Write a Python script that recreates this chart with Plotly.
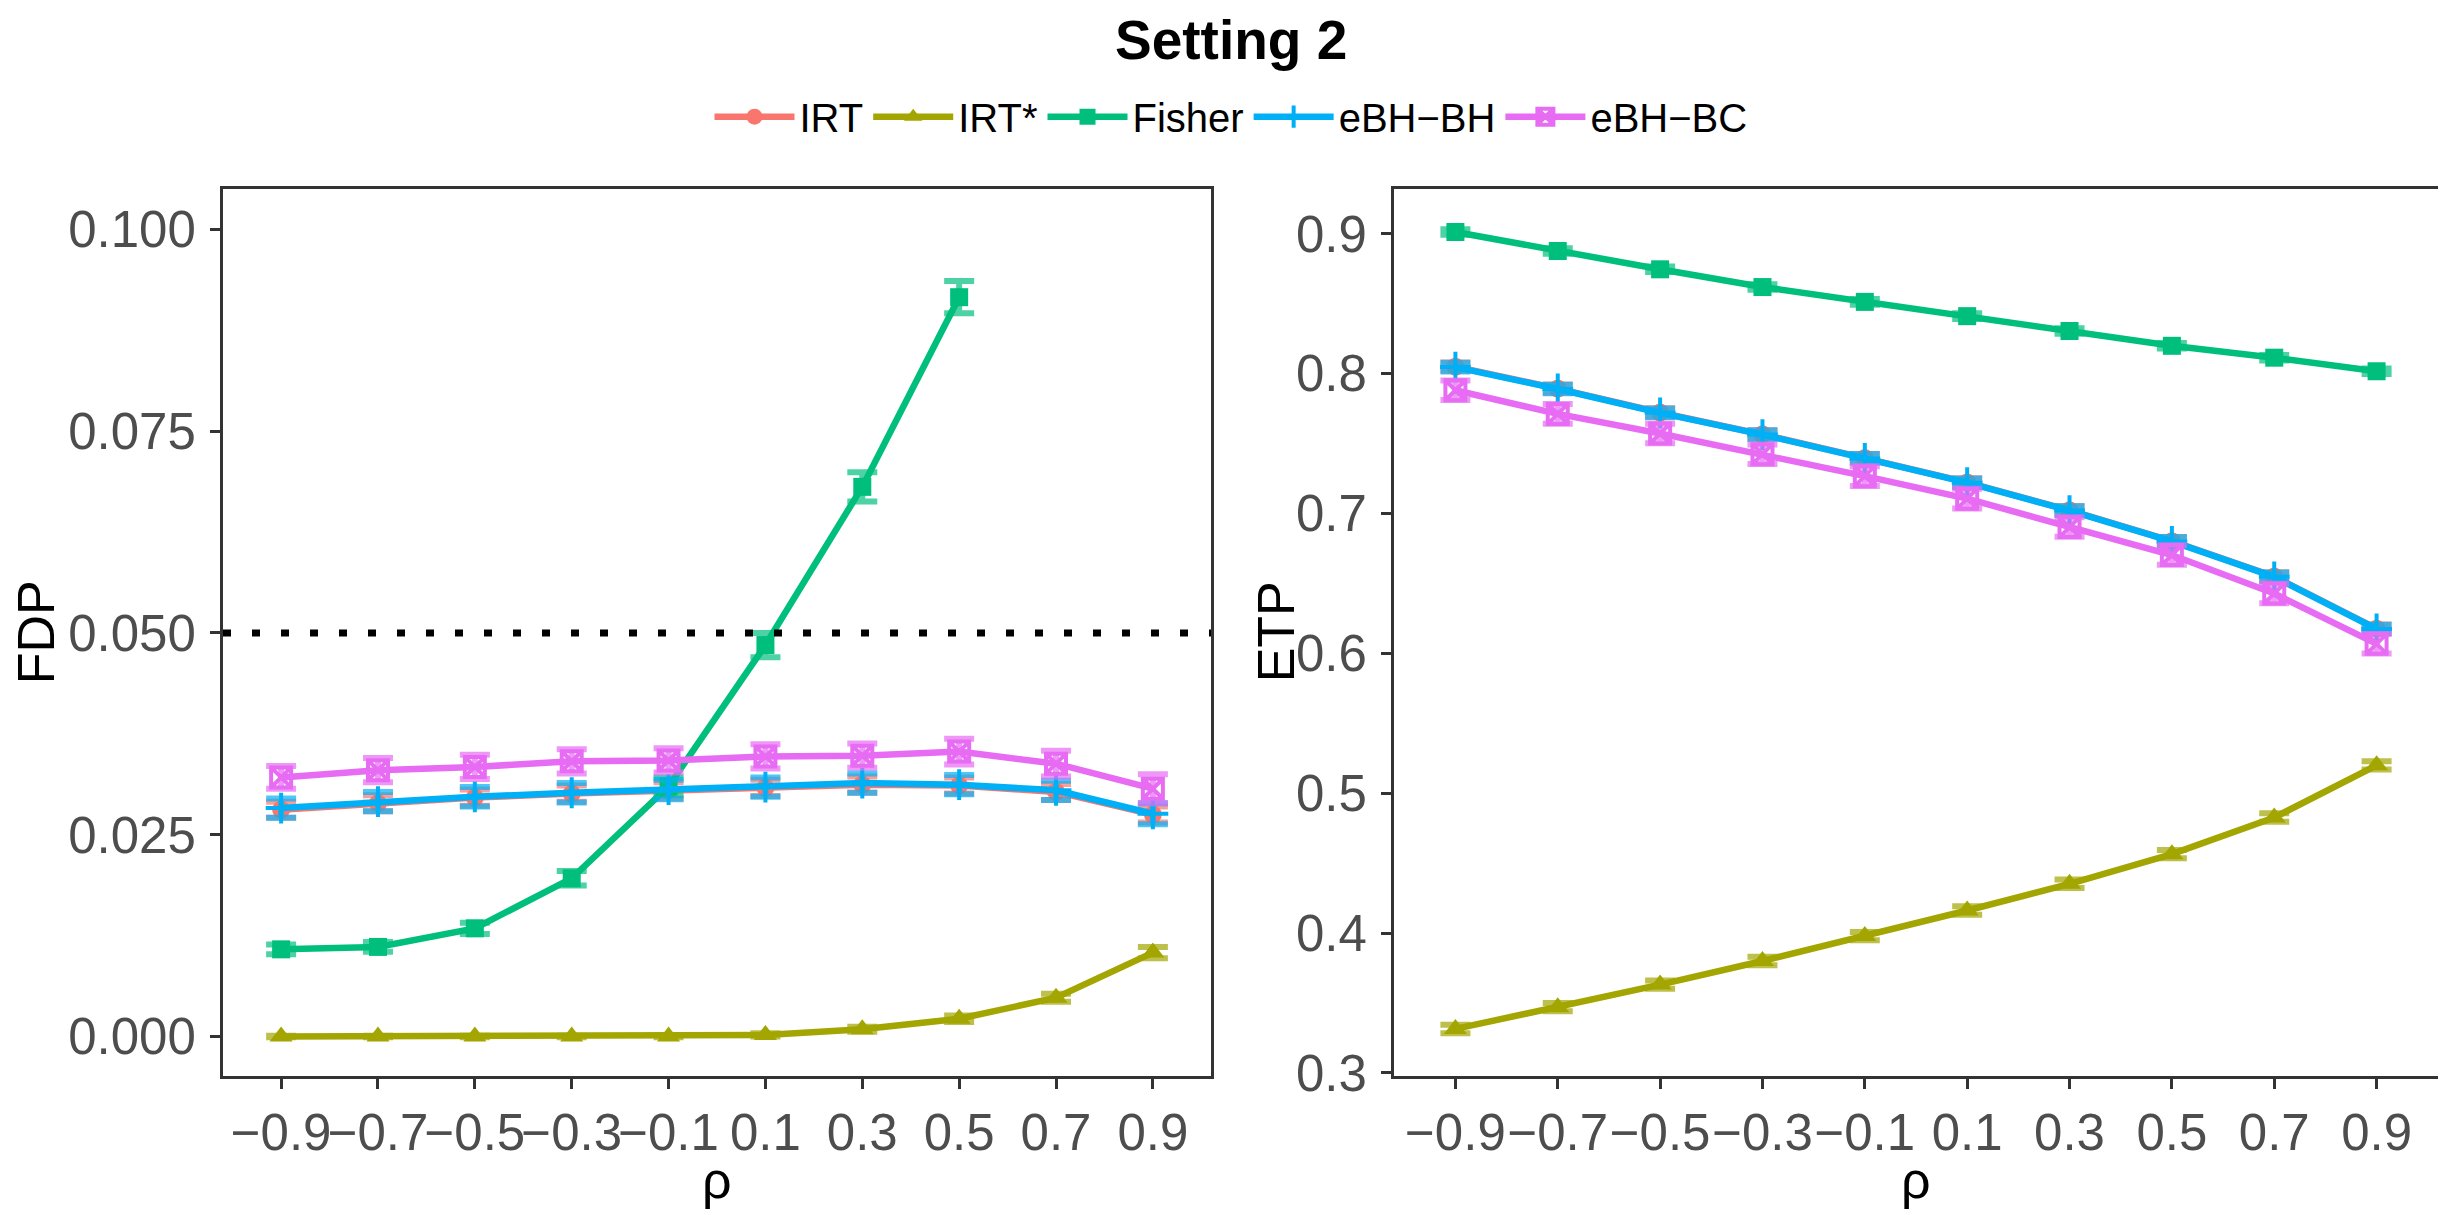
import plotly.graph_objects as go

rho = [-0.9, -0.7, -0.5, -0.3, -0.1, 0.1, 0.3, 0.5, 0.7, 0.9]
rho_labels = ["−0.9", "−0.7", "−0.5", "−0.3", "−0.1", "0.1", "0.3", "0.5", "0.7", "0.9"]
methods = ["IRT", "IRT*", "Fisher", "eBH−BH", "eBH−BC"]

# FDP (left panel)
fdp_irt = [0.0281, 0.0289, 0.0296, 0.0301, 0.0305, 0.0308, 0.0312, 0.0311, 0.0303, 0.0275]
fdp_irt_se = [0.0010, 0.0010, 0.0010, 0.0010, 0.0010, 0.0010, 0.0010, 0.0010, 0.0010, 0.0010]
fdp_irts = [0.0000, 0.0000, 0.0000, 0.0000, 0.0000, 0.0002, 0.0009, 0.0022, 0.0048, 0.0104]
fdp_irts_se = [0.0001, 0.0001, 0.0001, 0.0001, 0.0001, 0.0002, 0.0003, 0.0004, 0.0005, 0.0007]
fdp_fisher = [0.0108, 0.0111, 0.0134, 0.0196, 0.0310, 0.0485, 0.0681, 0.0916, None, None]
fdp_fisher_se = [0.0006, 0.0006, 0.0007, 0.0009, 0.0011, 0.0015, 0.0018, 0.0020, None, None]
fdp_bh = [0.0283, 0.0291, 0.0297, 0.0302, 0.0306, 0.0309, 0.0314, 0.0312, 0.0305, 0.0276]
fdp_bh_se = [0.0012, 0.0012, 0.0012, 0.0012, 0.0012, 0.0012, 0.0012, 0.0012, 0.0012, 0.0013]
fdp_bc = [0.0321, 0.0330, 0.0334, 0.0341, 0.0342, 0.0347, 0.0348, 0.0353, 0.0338, 0.0307]
fdp_bc_se = [0.0014, 0.0015, 0.0015, 0.0015, 0.0015, 0.0015, 0.0015, 0.0016, 0.0016, 0.0018]

# ETP (right panel)
etp_irt = [0.8050, 0.7893, 0.7722, 0.7566, 0.7396, 0.7222, 0.7023, 0.6802, 0.6549, 0.6176]
etp_irt_se = [0.0030, 0.0030, 0.0030, 0.0030, 0.0030, 0.0030, 0.0030, 0.0030, 0.0030, 0.0030]
etp_irts = [0.3314, 0.3470, 0.3631, 0.3800, 0.3978, 0.4161, 0.4352, 0.4564, 0.4826, 0.5199]
etp_irts_se = [0.0030, 0.0030, 0.0030, 0.0030, 0.0030, 0.0030, 0.0030, 0.0030, 0.0030, 0.0030]
etp_fisher = [0.9013, 0.8877, 0.8746, 0.8619, 0.8513, 0.8411, 0.8305, 0.8199, 0.8114, 0.8017]
etp_fisher_se = [0.0020, 0.0020, 0.0020, 0.0020, 0.0020, 0.0020, 0.0020, 0.0020, 0.0020, 0.0020]
etp_bh = [0.8047, 0.7890, 0.7720, 0.7564, 0.7394, 0.7220, 0.7021, 0.6800, 0.6547, 0.6174]
etp_bh_se = [0.0031, 0.0031, 0.0031, 0.0031, 0.0031, 0.0031, 0.0031, 0.0031, 0.0031, 0.0031]
etp_bc = [0.7881, 0.7712, 0.7572, 0.7424, 0.7267, 0.7106, 0.6903, 0.6703, 0.6428, 0.6068]
etp_bc_se = [0.0070, 0.0070, 0.0070, 0.0070, 0.0070, 0.0070, 0.0070, 0.0070, 0.0070, 0.0070]

fdp_ticks = [0.000, 0.025, 0.050, 0.075, 0.100]
etp_ticks = [0.3, 0.4, 0.5, 0.6, 0.7, 0.8, 0.9]
fdp_target = 0.05

colors = ["#F8766D", "#A3A500", "#00BF7D", "#00B0F6", "#E76BF3"]
err_colors = ["rgba(248,118,109,0.7)", "rgba(163,165,0,0.7)", "rgba(0,191,125,0.7)",
              "rgba(0,176,246,0.7)", "rgba(231,107,243,0.7)"]
symbols = ["circle", "triangle-up", "square", "cross-thin-open", "square-x-open"]
msizes = [18, 20, 18, 22, 20]

FONT = "Liberation Sans, Arial, sans-serif"

fig = go.Figure()

fdp_series = [(fdp_irt, fdp_irt_se), (fdp_irts, fdp_irts_se), (fdp_fisher, fdp_fisher_se),
              (fdp_bh, fdp_bh_se), (fdp_bc, fdp_bc_se)]
etp_series = [(etp_irt, etp_irt_se), (etp_irts, etp_irts_se), (etp_fisher, etp_fisher_se),
              (etp_bh, etp_bh_se), (etp_bc, etp_bc_se)]

for panel, series in enumerate([fdp_series, etp_series]):
    xa = "x" if panel == 0 else "x2"
    ya = "y" if panel == 0 else "y2"
    for i, (vals, se) in enumerate(series):
        open_sym = symbols[i].endswith("open")
        fig.add_trace(go.Scatter(
            x=rho, y=vals, name=methods[i], xaxis=xa, yaxis=ya,
            mode="lines+markers",
            line=dict(color=colors[i], width=6.5),
            marker=dict(symbol=symbols[i], size=msizes[i], color=colors[i],
                        line=dict(color=colors[i], width=4 if open_sym else 0)),
            error_y=dict(type="data", array=se, visible=True, color=err_colors[i],
                         thickness=6, width=15),
            showlegend=(panel == 0), legendgroup=methods[i],
        ))

fig.add_shape(type="line", xref="x domain", yref="y", x0=0, x1=1,
              y0=fdp_target, y1=fdp_target,
              line=dict(color="black", width=7, dash="8px,21px"))

axis_common = dict(
    showline=True, mirror=True, linecolor="#333333", linewidth=3,
    ticks="outside", ticklen=10, tickwidth=3, tickcolor="#333333",
    showgrid=False, zeroline=False,
    tickfont=dict(family=FONT, size=51, color="#4D4D4D"),
)

fig.update_layout(
    width=2446, height=1215,
    margin=dict(l=0, r=0, t=0, b=0),
    paper_bgcolor="white", plot_bgcolor="white",
    showlegend=True,
    legend=dict(orientation="h", x=0.5, xanchor="center", y=0.9086, yanchor="middle",
                font=dict(family=FONT, size=40, color="black"),
                itemwidth=80, tracegroupgap=0, bgcolor="rgba(0,0,0,0)"),
    xaxis=dict(domain=[215/2446, 1203/2446], range=[-1.02, 1.02], tickangle=0,
               tickvals=rho, ticktext=rho_labels, anchor="y", **axis_common),
    yaxis=dict(domain=[124/1215, 1030/1215], range=[-0.00485, 0.105],
               tickvals=fdp_ticks, ticktext=[f"{v:.3f}" for v in fdp_ticks], anchor="x",
               ticklabelstandoff=4, **axis_common),
    xaxis2=dict(domain=[1386/2446, 2430/2446], range=[-1.02, 1.02], tickangle=0,
                tickvals=rho, ticktext=rho_labels, anchor="y2", **axis_common),
    yaxis2=dict(domain=[124/1215, 1030/1215], range=[0.298, 0.932],
                tickvals=etp_ticks, ticktext=[f"{v:.1f}" for v in etp_ticks], anchor="x2",
                ticklabelstandoff=4, **axis_common),
    annotations=[
        dict(text="<b>Setting 2</b>", x=0.5, y=(1215-33)/1215, xref="paper", yref="paper",
             xanchor="center", yanchor="middle", showarrow=False,
             font=dict(family=FONT, size=55, color="black")),
        dict(text="FDP", x=28/2446, y=(1215-638)/1215, xref="paper", yref="paper",
             xanchor="center", yanchor="middle", textangle=-90, showarrow=False,
             font=dict(family=FONT, size=52, color="black")),
        dict(text="ETP", x=1268/2446, y=(1215-638)/1215, xref="paper", yref="paper",
             xanchor="center", yanchor="middle", textangle=-90, showarrow=False,
             font=dict(family=FONT, size=52, color="black")),
        dict(text="ρ", x=709/2446, y=(1215-1198)/1215, xref="paper", yref="paper",
             xanchor="center", yanchor="middle", showarrow=False,
             font=dict(family=FONT, size=52, color="black")),
        dict(text="ρ", x=1908/2446, y=(1215-1198)/1215, xref="paper", yref="paper",
             xanchor="center", yanchor="middle", showarrow=False,
             font=dict(family=FONT, size=52, color="black")),
    ],
)

fig.write_html("out.html")
